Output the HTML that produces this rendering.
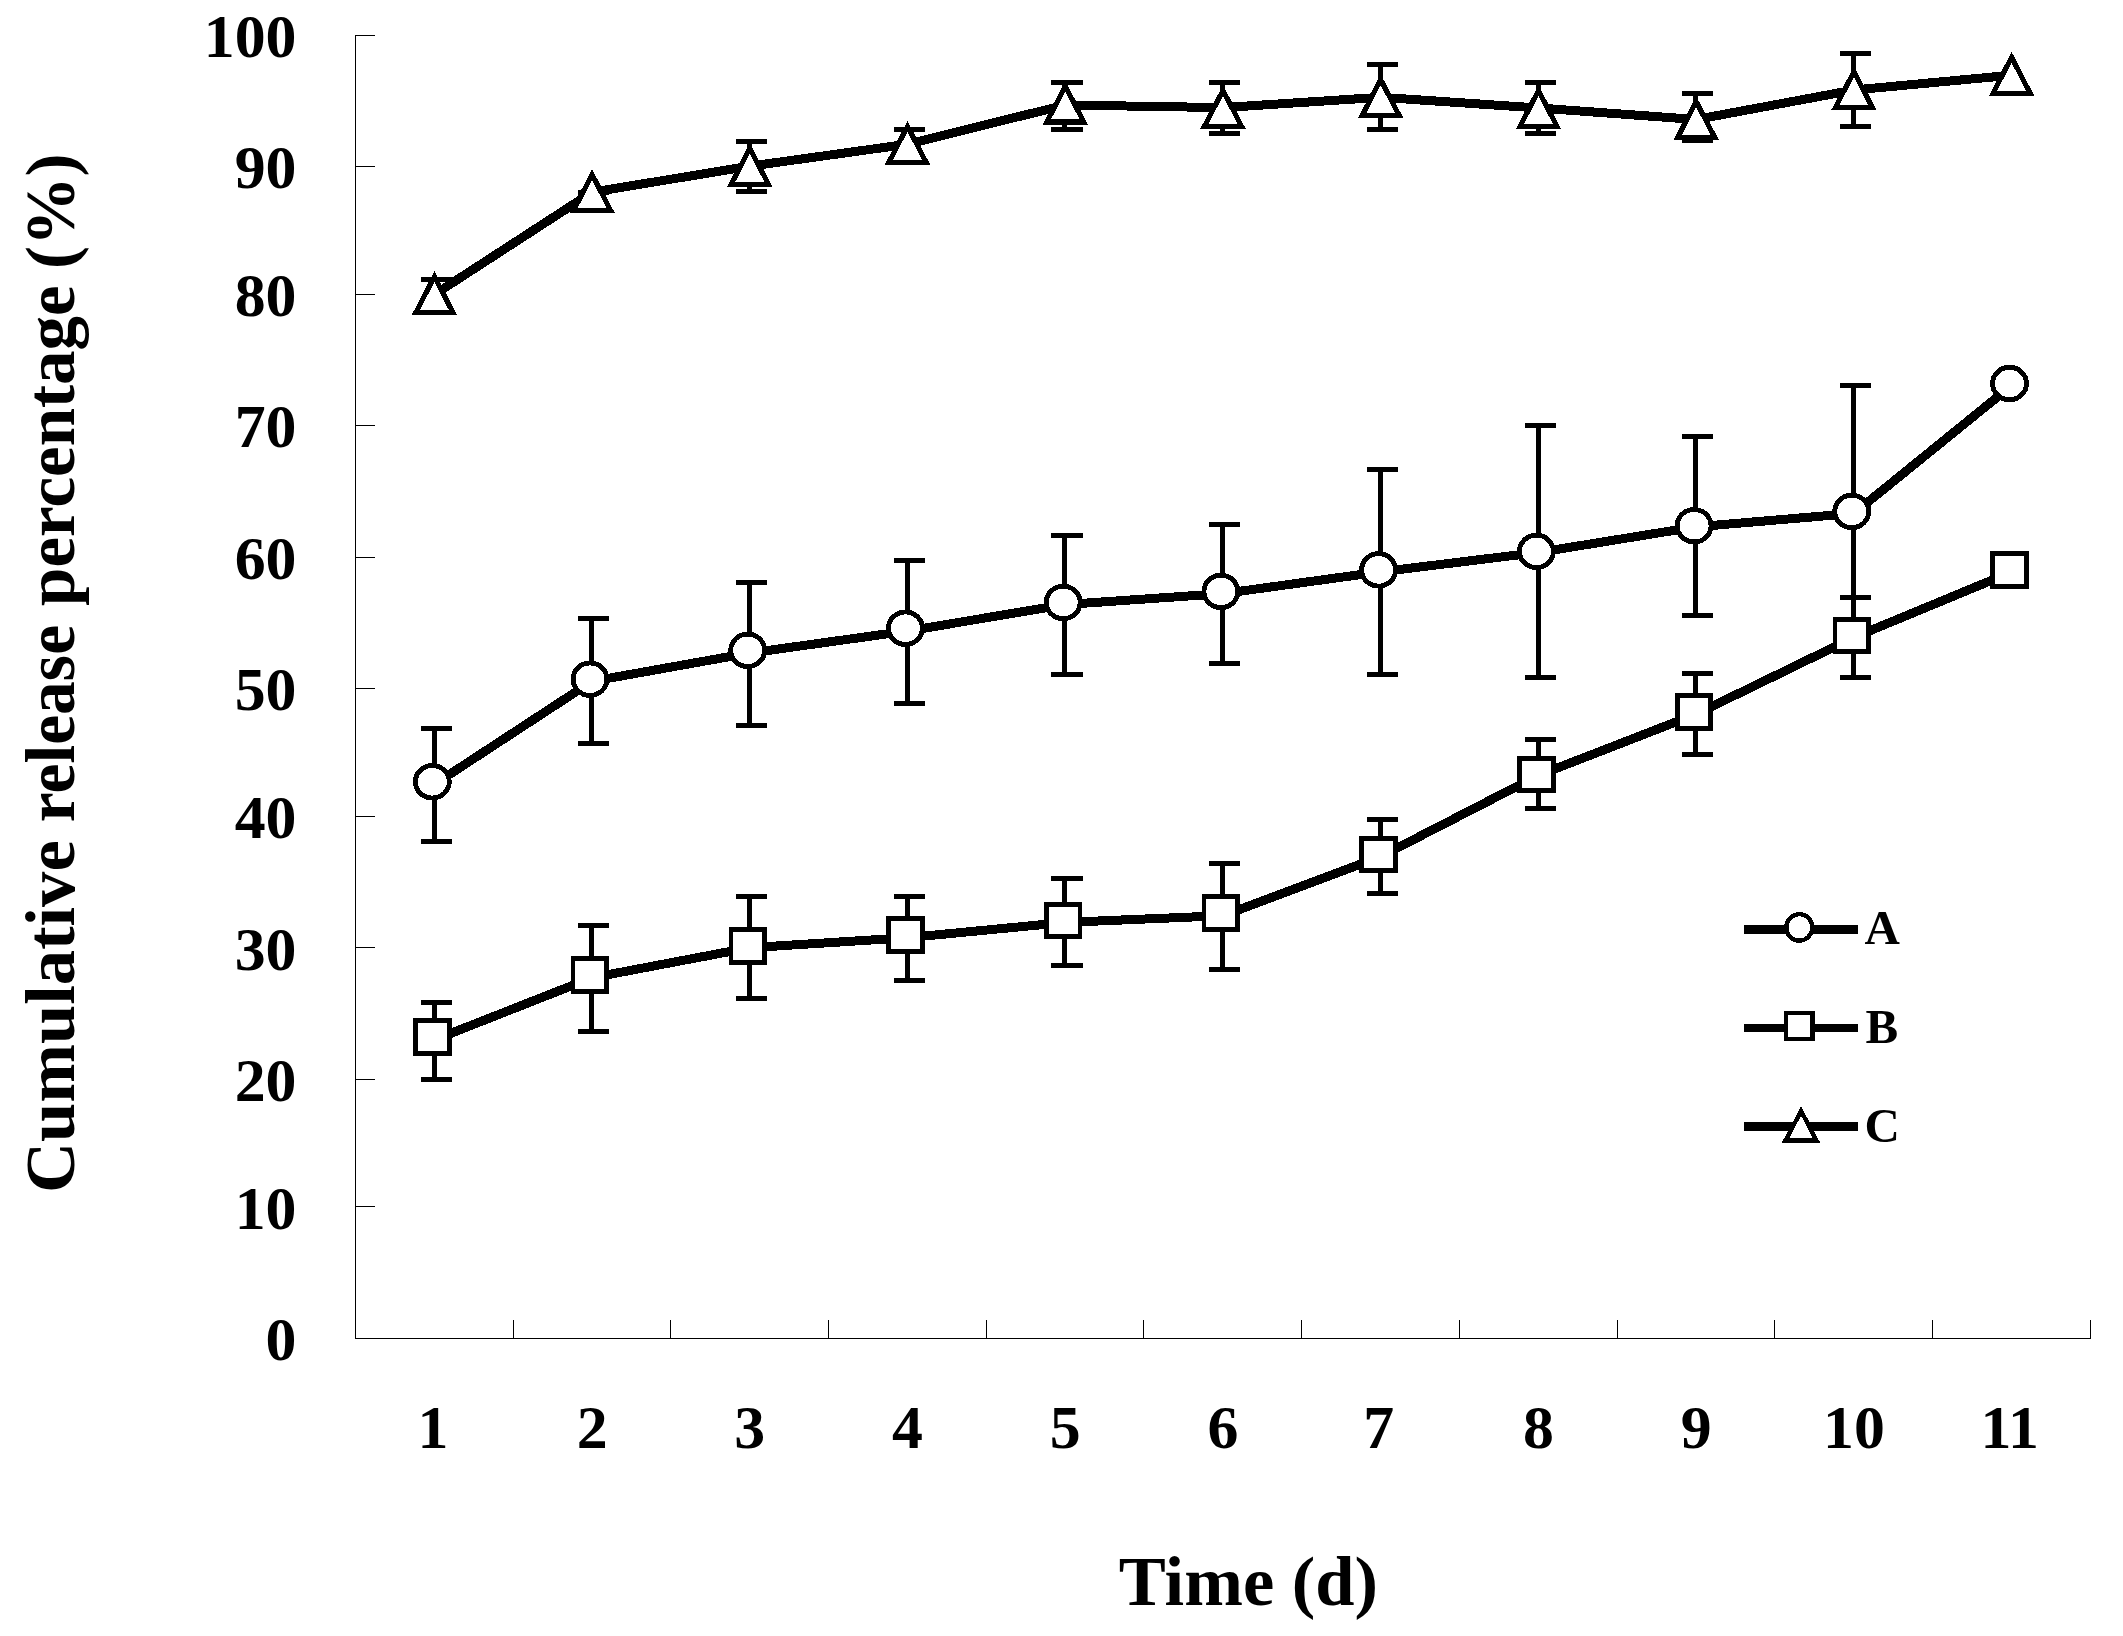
<!DOCTYPE html>
<html lang="en"><head><meta charset="utf-8"><title>Cumulative release percentage</title>
<style>
html,body{margin:0;padding:0;background:#fff;}
body{width:2123px;height:1636px;overflow:hidden;}
svg{display:block;}
text{font-family:"Liberation Serif",serif;font-weight:bold;fill:#000;}
.tick{font-size:61.8px;}
.title{font-size:70.5px;}
.leg{font-size:49px;}
.ax{stroke:#000;stroke-width:1;fill:none;shape-rendering:crispEdges;}
.ln{shape-rendering:crispEdges;stroke:#000;stroke-width:9.00;fill:none;stroke-linejoin:round;stroke-linecap:butt;}
.eb{stroke:#000;stroke-width:5.00;fill:none;shape-rendering:crispEdges;}
.mk{stroke:#000;fill:#fff;shape-rendering:crispEdges;}
</style></head><body>
<svg width="2123" height="1636" viewBox="0 0 2123 1636">
<rect x="0" y="0" width="2123" height="1636" fill="#fff"/>
<g class="ax">
<path d="M375.0 35.5 H355.5 V1338.5 H2091.0"/>
<path d="M355.5 1206.50 H375.0"/>
<path d="M355.5 1079.50 H375.0"/>
<path d="M355.5 947.50 H375.0"/>
<path d="M355.5 816.50 H375.0"/>
<path d="M355.5 688.50 H375.0"/>
<path d="M355.5 557.50 H375.0"/>
<path d="M355.5 425.50 H375.0"/>
<path d="M355.5 294.50 H375.0"/>
<path d="M355.5 166.50 H375.0"/>
<path d="M355.5 35.50 H375.0"/>
<path d="M513.50 1338.5 V1319.5"/>
<path d="M670.50 1338.5 V1319.5"/>
<path d="M828.50 1338.5 V1319.5"/>
<path d="M986.50 1338.5 V1319.5"/>
<path d="M1143.50 1338.5 V1319.5"/>
<path d="M1301.50 1338.5 V1319.5"/>
<path d="M1459.50 1338.5 V1319.5"/>
<path d="M1617.50 1338.5 V1319.5"/>
<path d="M1774.50 1338.5 V1319.5"/>
<path d="M1932.50 1338.5 V1319.5"/>
<path d="M2090.50 1338.5 V1319.5"/>
</g>
<g class="tick" text-anchor="end">
<text x="296.5" y="1360.0">0</text>
<text x="296.5" y="1229.0">10</text>
<text x="296.5" y="1100.8">20</text>
<text x="296.5" y="970.0">30</text>
<text x="296.5" y="837.8">40</text>
<text x="296.5" y="710.0">50</text>
<text x="296.5" y="579.0">60</text>
<text x="296.5" y="447.0">70</text>
<text x="296.5" y="315.8">80</text>
<text x="296.5" y="187.6">90</text>
<text x="296.5" y="57.0">100</text>
</g>
<g class="tick" text-anchor="middle">
<text x="432.9" y="1447.8">1</text>
<text x="592.1" y="1447.8">2</text>
<text x="749.8" y="1447.8">3</text>
<text x="907.5" y="1447.8">4</text>
<text x="1065.3" y="1447.8">5</text>
<text x="1223.0" y="1447.8">6</text>
<text x="1378.7" y="1447.8">7</text>
<text x="1538.5" y="1447.8">8</text>
<text x="1696.2" y="1447.8">9</text>
<text x="1853.9" y="1447.8">10</text>
<text x="2009.6" y="1447.8">11</text>
</g>
<text class="title" x="1248.4" y="1604.9" text-anchor="middle">Time (d)</text>
<g class="title" transform="translate(74.3 0) rotate(-90)">
<text x="-1193.00" y="0" textLength="352.70" lengthAdjust="spacingAndGlyphs">Cumulative</text>
<text x="-822.31" y="0" textLength="197.39" lengthAdjust="spacingAndGlyphs">release</text>
<text x="-605.98" y="0" textLength="320.62" lengthAdjust="spacingAndGlyphs">percentage</text>
<text x="-268.95" y="0" textLength="115.56" lengthAdjust="spacingAndGlyphs">(%)</text>
</g>
<g id="seriesA">
<polyline class="ln" points="434.4,784.3 592.1,681.2 749.8,653.0 907.5,631.0 1065.3,604.5 1223.0,593.6 1380.7,571.8 1538.5,552.4 1696.2,526.8 1853.9,513.4 2011.6,385.5"/>
<path class="eb" d="M434.5 728.4 V841.4 M421 728.4 H452 M421 841.4 H452"/>
<path class="eb" d="M591.5 618.8 V743.5 M578 618.8 H609 M578 743.5 H609"/>
<path class="eb" d="M749.5 582.5 V725.0 M736 582.5 H767 M736 725.0 H767"/>
<path class="eb" d="M907.5 560.6 V703.2 M894 560.6 H925 M894 703.2 H925"/>
<path class="eb" d="M1064.5 535.1 V674.2 M1051 535.1 H1083 M1051 674.2 H1083"/>
<path class="eb" d="M1222.5 524.4 V663.2 M1209 524.4 H1240 M1209 663.2 H1240"/>
<path class="eb" d="M1380.5 469.3 V674.0 M1367 469.3 H1398 M1367 674.0 H1398"/>
<path class="eb" d="M1538.5 425.5 V677.1 M1525 425.5 H1556 M1525 677.1 H1556"/>
<path class="eb" d="M1695.5 436.5 V615.4 M1682 436.5 H1713 M1682 615.4 H1713"/>
<path class="eb" d="M1853.5 385.4 V642.0 M1840 385.4 H1871 M1840 642.0 H1871"/>
</g>
<g id="seriesB">
<polyline class="ln" points="434.4,1039.8 592.1,977.7 749.8,947.7 907.5,937.7 1065.3,922.4 1223.0,915.7 1380.7,856.5 1538.5,775.3 1696.2,714.1 1853.9,637.4 2011.6,572.0"/>
<path class="eb" d="M434.5 1002.4 V1079.1 M421 1002.4 H452 M421 1079.1 H452"/>
<path class="eb" d="M591.5 925.5 V1031.6 M578 925.5 H609 M578 1031.6 H609"/>
<path class="eb" d="M749.5 896.5 V998.3 M736 896.5 H767 M736 998.3 H767"/>
<path class="eb" d="M907.5 896.6 V980.4 M894 896.6 H925 M894 980.4 H925"/>
<path class="eb" d="M1064.5 878.3 V965.9 M1051 878.3 H1083 M1051 965.9 H1083"/>
<path class="eb" d="M1222.5 863.0 V969.6 M1209 863.0 H1240 M1209 969.6 H1240"/>
<path class="eb" d="M1380.5 819.9 V893.0 M1367 819.9 H1398 M1367 893.0 H1398"/>
<path class="eb" d="M1538.5 739.2 V808.9 M1525 739.2 H1556 M1525 808.9 H1556"/>
<path class="eb" d="M1695.5 673.8 V754.3 M1682 673.8 H1713 M1682 754.3 H1713"/>
<path class="eb" d="M1853.5 597.4 V677.1 M1840 597.4 H1871 M1840 677.1 H1871"/>
</g>
<g id="seriesC">
<polyline class="ln" points="434.4,294.5 592.1,192.2 749.8,166.2 907.5,144.2 1065.3,105.0 1223.0,107.6 1380.7,97.3 1538.5,108.0 1696.2,119.5 1853.9,90.0 2011.6,75.2"/>
<path class="eb" d="M434.5 279.4 V309.6 M421 279.4 H452 M421 309.6 H452"/>
<path class="eb" d="M591.5 192.0 V192.0 M578 192.0 H609 M578 192.0 H609"/>
<path class="eb" d="M749.5 141.0 V191.8 M736 141.0 H767 M736 191.8 H767"/>
<path class="eb" d="M907.5 129.8 V158.6 M894 129.8 H925 M894 158.6 H925"/>
<path class="eb" d="M1064.5 82.6 V129.8 M1051 82.6 H1083 M1051 129.8 H1083"/>
<path class="eb" d="M1222.5 82.6 V133.4 M1209 82.6 H1240 M1209 133.4 H1240"/>
<path class="eb" d="M1380.5 64.7 V129.8 M1367 64.7 H1398 M1367 129.8 H1398"/>
<path class="eb" d="M1538.5 82.6 V133.4 M1525 82.6 H1556 M1525 133.4 H1556"/>
<path class="eb" d="M1695.5 93.5 V140.6 M1682 93.5 H1713 M1682 140.6 H1713"/>
<path class="eb" d="M1853.5 53.5 V126.5 M1840 53.5 H1871 M1840 126.5 H1871"/>
</g>
<g class="mk" stroke-width="4.9">
<ellipse cx="432.3" cy="781.8" rx="16.95" ry="16.25"/>
<ellipse cx="590.0" cy="679.2" rx="16.95" ry="16.25"/>
<ellipse cx="747.7" cy="650.3" rx="16.95" ry="16.25"/>
<ellipse cx="905.4" cy="628.2" rx="16.95" ry="16.25"/>
<ellipse cx="1063.2" cy="602.4" rx="16.95" ry="16.25"/>
<ellipse cx="1220.9" cy="591.4" rx="16.95" ry="16.25"/>
<ellipse cx="1378.6" cy="569.9" rx="16.95" ry="16.25"/>
<ellipse cx="1536.4" cy="551.4" rx="16.95" ry="16.25"/>
<ellipse cx="1694.1" cy="525.7" rx="16.95" ry="16.25"/>
<ellipse cx="1851.8" cy="511.4" rx="16.95" ry="16.25"/>
<ellipse cx="2009.5" cy="383.5" rx="16.95" ry="16.25"/>
</g>
<g class="mk" stroke-width="4.8" stroke-linejoin="miter" shape-rendering="crispEdges">
<rect x="415.4" y="1020.6" width="33.7" height="32.6"/>
<rect x="573.1" y="958.6" width="33.7" height="32.6"/>
<rect x="730.9" y="929.7" width="33.7" height="32.6"/>
<rect x="888.6" y="918.6" width="33.7" height="32.6"/>
<rect x="1046.3" y="904.3" width="33.7" height="32.6"/>
<rect x="1204.1" y="896.8" width="33.7" height="32.6"/>
<rect x="1361.8" y="838.3" width="33.7" height="32.6"/>
<rect x="1519.5" y="758.3" width="33.7" height="32.6"/>
<rect x="1677.2" y="695.8" width="33.7" height="32.6"/>
<rect x="1835.0" y="619.3" width="33.7" height="32.6"/>
<rect x="1992.7" y="553.7" width="33.7" height="32.6"/>
</g>
<g class="mk" stroke-width="5.1" stroke-linejoin="miter">
<path d="M434.4 276.6 L452.9 312.4 L415.9 312.4 Z"/>
<path d="M592.1 174.5 L610.6 210.4 L573.6 210.4 Z"/>
<path d="M749.8 148.3 L768.3 184.1 L731.3 184.1 Z"/>
<path d="M907.5 126.3 L926.0 162.1 L889.0 162.1 Z"/>
<path d="M1065.3 86.2 L1083.8 122.0 L1046.8 122.0 Z"/>
<path d="M1223.0 90.4 L1241.5 126.2 L1204.5 126.2 Z"/>
<path d="M1380.7 79.6 L1399.2 115.5 L1362.2 115.5 Z"/>
<path d="M1538.5 90.5 L1557.0 126.4 L1520.0 126.4 Z"/>
<path d="M1696.2 101.6 L1714.7 137.4 L1677.7 137.4 Z"/>
<path d="M1853.9 71.7 L1872.4 107.5 L1835.4 107.5 Z"/>
<path d="M2011.6 57.3 L2030.1 93.2 L1993.1 93.2 Z"/>
</g>
<path d="M1743.8 929.3 H1858.1" stroke="#000" stroke-width="8.8" shape-rendering="crispEdges"/>
<path d="M1743.8 1027.9 H1858.1" stroke="#000" stroke-width="8.8" shape-rendering="crispEdges"/>
<path d="M1743.8 1126.5 H1858.1" stroke="#000" stroke-width="8.8" shape-rendering="crispEdges"/>
<ellipse class="mk" stroke-width="4.4" cx="1799.3" cy="927.4" rx="12.95" ry="13.2"/>
<rect class="mk" shape-rendering="crispEdges" stroke-width="4.4" x="1786.2" y="1012.9" width="26.4" height="26.0"/>
<path class="mk" stroke-width="4.4" d="M1801.1 1111.0 L1816.6 1140.6 L1785.4 1140.6 Z"/>
<g class="leg">
<text x="1864.4" y="944.2">A</text>
<text x="1865.4" y="1042.7">B</text>
<text x="1864.6" y="1141.5">C</text>
</g>
</svg>
</body></html>
